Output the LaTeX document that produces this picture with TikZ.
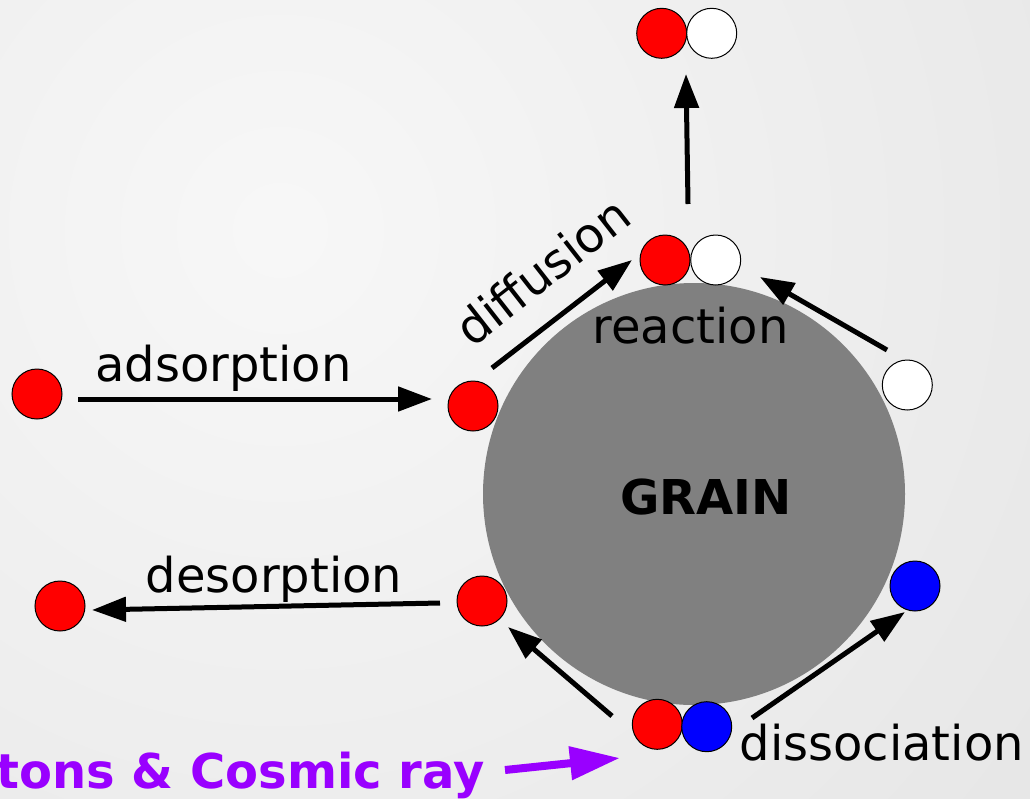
\documentclass[tikz,border=0pt]{standalone}
\usepackage{fontspec}
\setmainfont{DejaVu Sans}
\usetikzlibrary{arrows.meta}
\definecolor{graingray}{HTML}{808080}
\definecolor{atomred}{HTML}{FF0000}
\definecolor{atomblue}{HTML}{0000FF}
\definecolor{raypurple}{HTML}{9900FF}
\tikzstyle{atom} = [
    circle,
    draw=black,
    line width=1pt,
    minimum size=50pt,
    inner sep=0pt
]
\tikzstyle{proc} = [
    font=\fontsize{48}{56}\selectfont,
    inner sep=0pt,
    anchor=base
]
\tikzstyle{arrow} = [line width=5pt, -{Triangle[length=34pt,width=24pt]}]
\tikzstyle{rayarrow} = [line width=8pt, raypurple, -{Triangle[length=50pt,width=32pt]}]

\begin{document}
\begin{tikzpicture}[x=1pt, y=-1pt]

\begin{scope}
\clip (0,0) rectangle (1030,798);
\shade[inner color=white!97!black, outer color=white!90!black] (280,230) circle (1000pt);
\end{scope}
\useasboundingbox (0,0) rectangle (1030,798);

\node (grain) [circle, fill=graingray, minimum size=422pt, inner sep=0pt] at (694,494) {};
\node (graintext) [proc, font=\fontsize{48}{56}\selectfont\bfseries] at (706,514) {GRAIN};

\node (gasin) [atom, fill=atomred] at (37,394) {};
\node (surfin) [atom, fill=atomred] at (473,406) {};
\node (gasout) [atom, fill=atomred] at (60,606) {};
\node (surfout) [atom, fill=atomred] at (482,601) {};
\node (reacA) [atom, fill=atomred] at (665,260) {};
\node (reacB) [atom, fill=white] at (715.7,260) {};
\node (prodA) [atom, fill=atomred] at (661.7,33.3) {};
\node (prodB) [atom, fill=white] at (711.7,33.3) {};
\node (surfB) [atom, fill=white] at (907.3,385) {};
\node (fragB) [atom, fill=atomblue] at (915,586) {};
\node (molA) [atom, fill=atomred] at (657.3,724.3) {};
\node (molB) [atom, fill=atomblue] at (706.7,726.7) {};

\coordinate (upS) at (688,204);
\coordinate (upE) at (686,74);
\coordinate (difS) at (492,368);
\coordinate (difE) at (632,260);
\coordinate (adsS) at (78,399);
\coordinate (adsE) at (432,399);
\coordinate (desS) at (440,603);
\coordinate (desE) at (92,610);
\coordinate (reaS) at (887,350);
\coordinate (reaE) at (760,277);
\coordinate (retS) at (612,716);
\coordinate (retE) at (508,627);
\coordinate (disS) at (752,718);
\coordinate (disE) at (905,612);
\coordinate (rayS) at (505,770);
\coordinate (rayE) at (620,758);

\draw [arrow] (upS) -- (upE);
\draw [arrow] (difS) -- (difE);
\draw [arrow] (adsS) -- (adsE);
\draw [arrow] (desS) -- (desE);
\draw [arrow] (reaS) -- (reaE);
\draw [arrow] (retS) -- (retE);
\draw [arrow] (disS) -- (disE);
\draw [rayarrow] (rayS) -- (rayE);

\node (adstext) [proc] at (223.5,381) {adsorption};
\node (destext) [proc] at (274,592) {desorption};
\node (reatext) [proc] at (690.5,343) {reaction};
\node (distext) [proc] at (881.7,760) {dissociation};
\node (diftext) [proc, rotate=38] at (553,285) {diffusion};
\node (raytext) [proc, anchor=base east, text=raypurple, font=\fontsize{48}{56}\selectfont\bfseries] at (485,788) {tons \& Cosmic ray};

\end{tikzpicture}
\end{document}
